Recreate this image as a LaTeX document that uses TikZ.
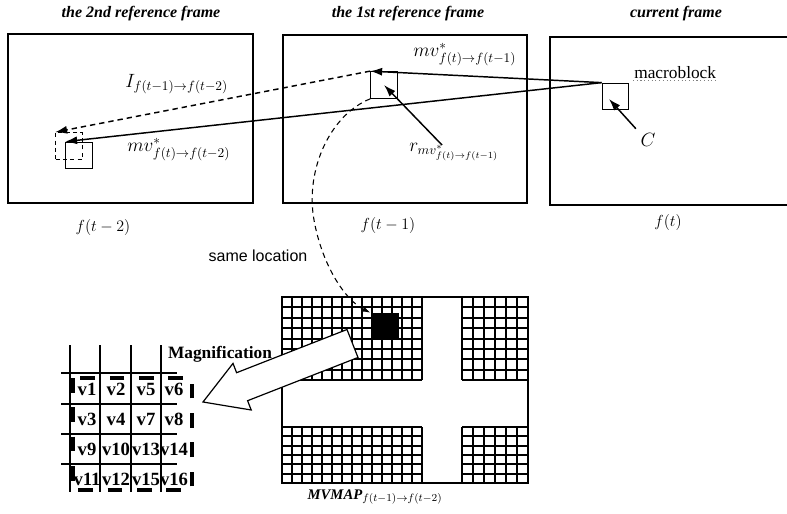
\documentclass[tikz,border=0pt]{standalone}
\usepackage{fontspec}
\setmainfont{Liberation Serif}
\setsansfont{Liberation Sans}
\usepackage{amsmath, amssymb}
\usetikzlibrary{arrows.meta}

\tikzset{
	frm/.style={line width=0.9pt},
	blk/.style={draw, line width=0.8pt, minimum size=20pt, inner sep=0pt},
	dblk/.style={blk, dash pattern=on 3pt off 2.5pt},
	arr/.style={line width=1.1pt, -{Latex[length=9pt,width=6pt]}},
	darr/.style={arr, dash pattern=on 4pt off 3pt},
	gridln/.style={line width=1.5pt},
	thickdash/.style={line width=2.3pt, dash pattern=on 11pt off 11pt},
	title/.style={font=\fontsize{12}{14}\selectfont\bfseries\itshape},
	flbl/.style={font=\large},
	cell/.style={font=\fontsize{14}{16}\selectfont\bfseries, inner sep=0.75pt},
}
% one quadrant of the motion vector map: x0,y0,x1,y1,cols,rows
\newcommand{\mvquad}[6]{%
	\foreach \i in {0,...,#5}
		\draw[gridln] ({#1+\i*(#3-#1)/#5},#2) -- ({#1+\i*(#3-#1)/#5},#4);
	\foreach \j in {0,...,#6}
		\draw[gridln] (#1,{#2+\j*(#4-#2)/#6}) -- (#3,{#2+\j*(#4-#2)/#6});
}

\begin{document}
\begin{tikzpicture}[x=0.75pt,y=0.75pt,yscale=-1,xscale=1]
	\useasboundingbox (0,0) rectangle (787,513);
	
	% Frame titles
	\draw (141,14) node (t2) [title] {the 2nd reference frame};
	\draw (408,14) node (t1) [title] {the 1st reference frame};
	\draw (676,14) node (t0) [title] {current frame};
	
	%Shape: Rectangle [frame f(t-2)]
	\draw [frm] (8,34) rectangle (253,203);
	%Shape: Rectangle [frame f(t-1)]
	\draw [frm] (283,35) rectangle (527,203);
	%Shape: Rectangle [frame f(t)]
	\draw [frm] (787,37) -- (550,37) -- (550,205) -- (787,205);
	
	% Text Node
	\draw (103,227) node (lf2) [flbl] {$f(t-2)$};
	\draw (388,225) node (lf1) [flbl] {$f(t-1)$};
	\draw (668,222) node (lf0) [flbl] {$f(t)$};
	
	% Blocks
	\node [blk] (cur) at (615.5,96.5) {};
	\node [blk] (b1) at (384,85) {};
	\node [blk] (b2) at (79,155.5) {};
	\node [dblk] (db2) at (69,146) {};
	
	% Text Node
	\draw (633,73) node (lblmb) [anchor=west, inner sep=0.75pt, font=\fontsize{13}{15}\selectfont] {macroblock};
	\draw [gray, dotted, line width=0.8pt] (lblmb.south west) -- (lblmb.south east);
	\draw (648,140) node (lblC) [font=\Large] {$C$};
	\draw (412,55) node (lblmv1) [anchor=west, inner sep=0.75pt, font=\Large] {$mv^{*}_{f(t)\rightarrow f(t-1)}$};
	\draw (124,84) node (lblI) [anchor=west, inner sep=0.75pt, font=\Large] {$I_{f(t-1)\rightarrow f(t-2)}$};
	\draw (126,150) node (lblmv2) [anchor=west, inner sep=0.75pt, font=\Large] {$mv^{*}_{f(t)\rightarrow f(t-2)}$};
	\draw (408,152) node (lblr) [anchor=west, inner sep=0.75pt, font=\Large] {$r_{mv^{*}_{f(t)\rightarrow f(t-1)}}$};
	
	% Motion vectors
	\draw [arr] (cur.north west) -- (b1.north west);
	\draw [arr] (cur.north west) -- (b2.north west);
	\draw [darr] (b1.north west) -- (db2.north west);
	
	\coordinate (rtail) at (442,145);
	\draw [arr] (rtail) -- (b1.center);
	\coordinate (ctip) at (609,99);
	\draw [arr] (lblC.north west) -- (ctip);
	
	% Motion vector map
	\mvquad{282}{297}{422}{380}{14}{8}
	\mvquad{462}{297}{528}{380}{6}{8}
	\mvquad{282}{427}{422}{483}{14}{6}
	\mvquad{462}{427}{528}{483}{6}{6}
	\draw [gridln] (282,297) rectangle (528,483);
	\node [fill=black, minimum width=21.5pt, minimum height=19.5pt, inner sep=0pt] (hot) at (385,326) {};
	
	\draw (375,497) node (lblmap) [font=\fontsize{11}{13}\selectfont] {\textbf{\textit{MVMAP}}$_{f(t-1)\rightarrow f(t-2)}$};
	
	% same location
	\draw (258,256) node (lblsame) [font=\sffamily\fontsize{12}{14}\selectfont] {same location};
	\draw [line width=0.8pt, dash pattern=on 4pt off 3pt, -{Latex[length=6pt,width=4pt]}] (b1.south west) .. controls (330,115) and (305,170) .. (314,220) .. controls (322,265) and (345,300) .. (hot.north west);
	
	% Magnified table
	\foreach \x in {70,100,131,161}
		\draw [line width=0.8pt] (\x,345) -- (\x,492);
	\foreach \y in {373,404,434,464}
		\draw [line width=0.8pt] (61,\y) -- (177,\y);
	\foreach \a/\b/\c/\d [count=\r from 0] in {v1/v2/v5/v6, v3/v4/v7/v8, v9/v10/v13/v14, v11/v12/v15/v16}{
		\node [cell] (\a) at (87,{389+30*\r}) {\a};
		\node [cell] (\b) at (116,{389+30*\r}) {\b};
		\node [cell] (\c) at (146,{389+30*\r}) {\c};
		\node [cell] (\d) at (174,{389+30*\r}) {\d};
	}
	\draw [thickdash] (73,378) rectangle (192,490);
	
	\draw (220,354) node (lblmag) [font=\fontsize{13}{15}\selectfont\bfseries] {Magnification};
	%Shape: Arrow [magnification]
	\draw [line width=0.9pt, fill=white] (203,402) -- (251.2,410) -- (247.6,400.7) -- (358,357.5) -- (347,329.5) -- (236.6,372.7) -- (233,363.4) -- cycle;
	
\end{tikzpicture}
\end{document}
